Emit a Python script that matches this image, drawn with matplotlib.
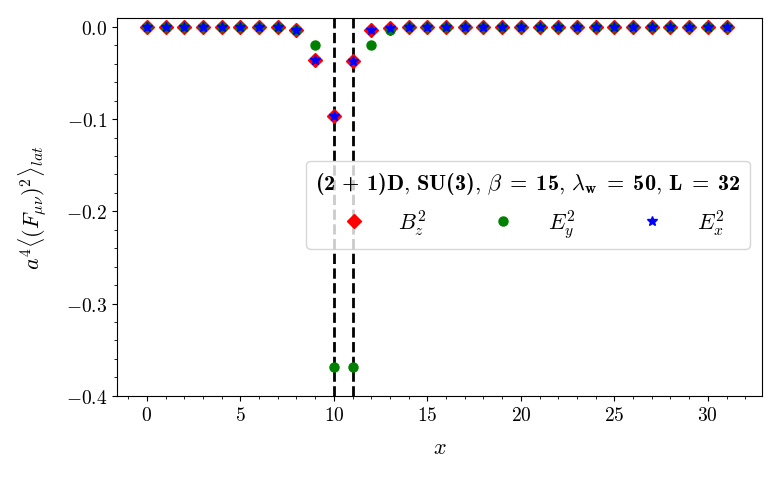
import numpy as np
import matplotlib
matplotlib.use("Agg")
import matplotlib.pyplot as plt

plt.rcParams['font.family'] = 'serif'
plt.rcParams['font.serif'] = ['cmr10', 'DejaVu Serif']
plt.rcParams['mathtext.fontset'] = 'cm'
plt.rcParams['mathtext.rm'] = 'cmr10'
plt.rcParams['mathtext.it'] = 'cmmi10'
plt.rcParams['mathtext.bf'] = 'cmb10'
plt.rcParams['mathtext.fallback'] = 'cm'
plt.rcParams['axes.formatter.use_mathtext'] = True
plt.rcParams['axes.unicode_minus'] = True

x = np.arange(32)
Bz = np.zeros(32)
Ey = np.zeros(32)
Ex = np.zeros(32)
Bz[8], Bz[9], Bz[10], Bz[11], Bz[12], Bz[13] = -0.004, -0.036, -0.097, -0.037, -0.004, -0.001
Ey[8], Ey[9], Ey[10], Ey[11], Ey[12], Ey[13] = -0.003, -0.0195, -0.369, -0.369, -0.0195, -0.004
Ex[8], Ex[9], Ex[10], Ex[11], Ex[12], Ex[13] = -0.004, -0.036, -0.097, -0.037, -0.004, -0.001
vlines = [10, 11]

fig = plt.figure(figsize=(7.8, 4.81), dpi=100)
ax = fig.add_axes([0.150, 0.175, 0.827, 0.786])

ax.plot(x, Bz, 'D', color='red', ms=7, label=r'$B_z^2$', zorder=3)
ax.plot(x, Ey, 'o', color='green', ms=6.5, label=r'$E_y^2$', zorder=4)
ax.plot(x, Ex, '*', color='blue', ms=7, label=r'$E_x^2$', zorder=5)
for v in vlines:
    ax.axvline(v, color='black', ls='--', lw=2, zorder=2)

ax.set_xlim(-1.6, 32.9)
ax.set_ylim(-0.4, 0.0098)
ax.set_xticks([0, 5, 10, 15, 20, 25, 30])
ax.set_yticks([0.0, -0.1, -0.2, -0.3, -0.4])
ax.minorticks_on()
ax.tick_params(labelsize=14)
ax.set_xlabel(r'$x$', fontsize=16, labelpad=10)
ax.set_ylabel(r'$a^4\langle (F_{\mu\nu})^2\rangle_{lat}$', fontsize=16, labelpad=12)

title = (r'$\mathbf{(2\,+\,1)D},\,\mathbf{SU(3)},\,\beta\;\mathbf{=}\;\mathbf{15},\,'
         r'\lambda_\mathbf{w}\;\mathbf{=}\;\mathbf{50},\,\mathbf{L}\;\mathbf{=}\;\mathbf{32}$')
leg = ax.legend(loc='center right', bbox_to_anchor=(0.981, 0.505), borderaxespad=0, ncol=3, fontsize=16,
                title=title, title_fontsize=16, handletextpad=1.0, columnspacing=2.45, markerscale=1.0)
leg.get_title().set_math_fontfamily('custom')
leg.get_frame().set_alpha(0.8)

fig.savefig('out.png', dpi=100)
